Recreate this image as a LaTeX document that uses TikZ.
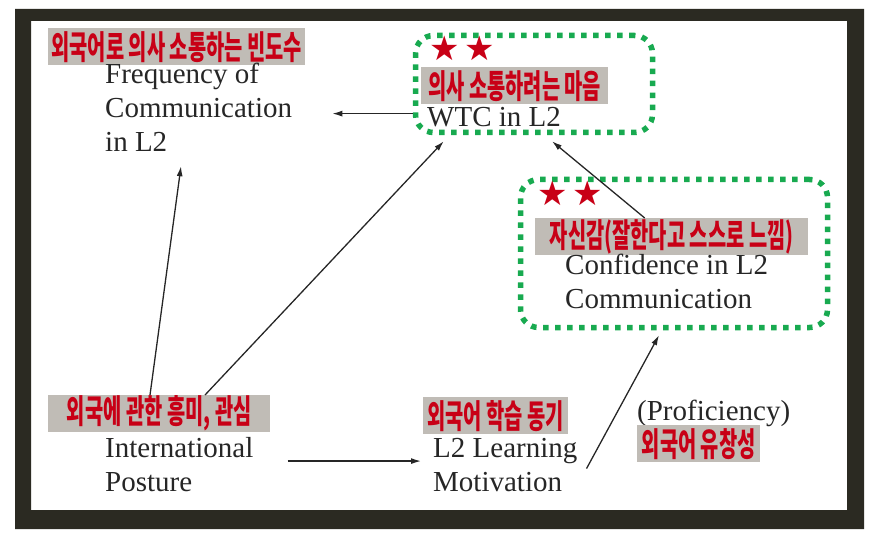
\documentclass[tikz,border=0pt]{standalone}
\usepackage{fontspec}
\setmainfont{Liberation Serif}
\newfontfamily\krfont[FakeStretch=0.6]{Noto Sans CJK KR}
\newfontfamily\symfont{DejaVu Sans}
\usetikzlibrary{arrows.meta,positioning}
\definecolor{framedark}{RGB}{43,42,34}
\definecolor{krgray}{RGB}{192,188,182}
\definecolor{krred}{RGB}{200,0,22}
\definecolor{grpgreen}{RGB}{24,170,80}
\definecolor{txtgray}{RGB}{38,38,38}

\begin{document}
\begin{tikzpicture}[x=1pt, y=-1pt, >={Latex[length=10pt,width=6pt]},
  krlbl/.style={fill=krgray, text=krred, inner sep=0pt, minimum height=37pt, anchor=north west,
                font=\krfont\bfseries\fontsize{33}{33}\selectfont},
  entxt/.style={align=left, inner sep=0pt, anchor=base west, text=txtgray,
                font=\fontsize{29}{34}\selectfont},
  grpbox/.style={draw=grpgreen, line width=5.5pt, dash pattern=on 5.5pt off 6.5pt,
                 rounded corners=18pt, inner sep=0pt},
  stars/.style={text=krred, inner sep=0pt, anchor=north west,
                font=\symfont\fontsize{34}{34}\selectfont},
  arr/.style={->, line width=1.3pt, draw=txtgray}]
\useasboundingbox (0,0) rectangle (877,537);
\fill[framedark, even odd rule] (15,9) rectangle (864,529) (31,21) rectangle (847,510);

\node[grpbox, minimum width=237pt, minimum height=97pt] (wtcgrp) at (534,84) {};
\node[grpbox, minimum width=307pt, minimum height=148pt] (confgrp) at (674,253.5) {};

\node[krlbl, minimum width=257pt] (freqkr) at (48,28) {외국어로 의사 소통하는 빈도수};
\node[entxt] (freq) at (105,152) {Frequency of\\Communication\\in L2};

\node[stars] (wtcstar) at (429,36) {★\hspace{5pt}★};
\node[krlbl, minimum width=187pt] (wtckr) at (421,67) {의사 소통하려는 마음};
\node[entxt] (wtc) at (427,127) {WTC in L2};

\node[stars] (confstar) at (537,181) {★\hspace{5pt}★};
\node[krlbl, minimum width=273pt] (confkr) at (535,218) {자신감(잘한다고 스스로 느낌)};
\node[entxt] (conf) at (565,308) {Confidence in L2\\Communication};

\node[krlbl, minimum width=222pt] (ipkr) at (48,395) {외국에 관한 흥미, 관심};
\node[entxt] (ip) at (105,491) {International\\Posture};

\node[krlbl, minimum width=145pt] (l2kr) at (423,397) {외국어 학습 동기};
\node[entxt] (l2) at (433,491) {L2 Learning\\Motivation};

\node[entxt] (prof) at (637,420) {(Proficiency)};
\node[krlbl, minimum width=123pt] (profkr) at (637,425) {외국어 유창성};

\draw[arr] ([yshift=4pt]wtcgrp.west |- wtc.center) -- ([xshift=40pt,yshift=4pt]freq.east |- wtc.center);
\draw[arr] ([xshift=102pt]ipkr.north west) -- ([xshift=76pt,yshift=-14pt]freq.south west);
\draw[arr] ([xshift=157pt]ipkr.north west) -- ([xshift=31pt,yshift=-6pt]wtcgrp.south west);
\draw[arr] ([xshift=34pt,yshift=3pt]ip.east) -- ([xshift=-12pt,yshift=3pt]l2.west |- ip.east);
\draw[arr] ([xshift=9pt,yshift=-4pt]l2.east) -- ([xshift=-15pt,yshift=-5pt]confgrp.south);
\draw[arr] ([xshift=-27pt]confkr.north) -- ([xshift=18pt,yshift=-6pt]wtcgrp.south);
\end{tikzpicture}
\end{document}
